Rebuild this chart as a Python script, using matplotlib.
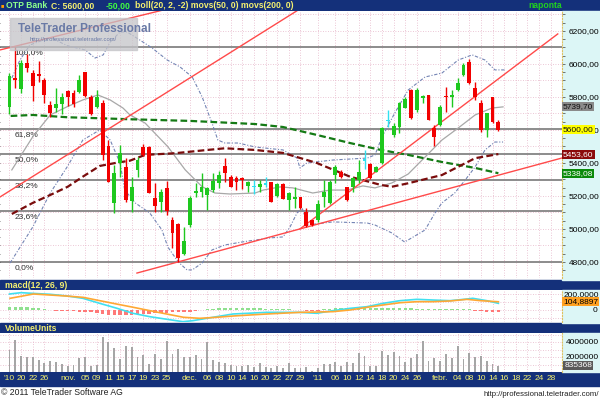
import numpy as np
import pandas as pd
import matplotlib
matplotlib.use('Agg')
import matplotlib.pyplot as plt
from matplotlib.patches import Rectangle
from matplotlib.transforms import blended_transform_factory

# ---------------- data ----------------
opens = [5741, 5913, 5846, 6004, 5948, 5937, 5903, 5752, 5731, 5756,
         5836, 5822, 5828, 5954, 5798, 5741, 5762, 5503, 5156, 5398,
         5378, 5172, 5358, 5495, 5495, 5186, 5162, 5251, 5055, 5028,
         4847, 5024, 5220, 5226, 5206, 5236, 5281, 5382, 5317, 5311,
         5311, 5263, 5257, 5257, 5273, 5287, 5200, 5273, 5176, 5180,
         5192, 5105, 5055, 5055, 5192, 5156, 5327, 5348, 5257, 5257,
         5297, 5418, 5394, 5348, 5398, 5657, 5570, 5620, 5731, 5842,
         5721, 5792, 5812, 5610, 5630, 5806, 5802, 5842, 5933, 6014,
         5853, 5762, 5600, 5798, 5650]
highs = [5943, 6105, 6024, 6061, 5964, 6020, 5913, 5776, 5853, 5826,
         5842, 5842, 5935, 5954, 5812, 5842, 5782, 5539, 5388, 5509,
         5428, 5317, 5438, 5513, 5503, 5277, 5240, 5291, 5075, 5038,
         5014, 5200, 5277, 5338, 5257, 5342, 5352, 5432, 5327, 5321,
         5317, 5293, 5297, 5297, 5317, 5287, 5277, 5277, 5226, 5257,
         5196, 5125, 5055, 5176, 5297, 5297, 5388, 5358, 5257, 5317,
         5418, 5479, 5398, 5382, 5616, 5721, 5640, 5772, 5798, 5846,
         5853, 5812, 5812, 5630, 5752, 5863, 5842, 5913, 6004, 6028,
         5893, 5782, 5705, 5798, 5661]
lows = [5697, 5853, 5822, 5954, 5778, 5893, 5762, 5677, 5711, 5695,
        5748, 5741, 5822, 5802, 5691, 5731, 5418, 5287, 5095, 5317,
        5166, 5105, 5317, 5445, 5216, 5101, 5101, 5085, 4883, 4798,
        4843, 5014, 5192, 5196, 5115, 5226, 5251, 5287, 5253, 5236,
        5243, 5226, 5212, 5226, 5257, 5166, 5196, 5180, 5115, 5125,
        5119, 5014, 5018, 5045, 5135, 5152, 5277, 5307, 5172, 5226,
        5277, 5362, 5301, 5348, 5394, 5620, 5560, 5580, 5731, 5665,
        5711, 5762, 5661, 5503, 5624, 5711, 5741, 5838, 5927, 5879,
        5782, 5590, 5560, 5640, 5596]
closes = [5927, 5901, 6004, 5974, 5869, 5927, 5812, 5705, 5756, 5798,
          5798, 5758, 5903, 5806, 5697, 5802, 5449, 5287, 5337, 5459,
          5176, 5257, 5418, 5449, 5220, 5142, 5226, 5111, 4978, 4822,
          4927, 5186, 5232, 5257, 5251, 5291, 5327, 5338, 5257, 5287,
          5297, 5287, 5257, 5273, 5273, 5166, 5273, 5180, 5216, 5196,
          5125, 5018, 5024, 5152, 5226, 5287, 5378, 5313, 5176, 5307,
          5348, 5418, 5307, 5378, 5610, 5657, 5624, 5762, 5786, 5671,
          5842, 5806, 5661, 5560, 5741, 5798, 5812, 5887, 5994, 5883,
          5802, 5600, 5701, 5650, 5600]
volumes = [2.95, 4.29, 2.14, 2.05, 1.97, 1.61, 1.25, 1.47, 1.38, 1.07,
           0.85, 0.94, 1.92, 1.97, 0.85, 0.94, 4.65, 3.97, 3.17, 1.70,
           3.48, 3.30, 1.97, 2.28, 1.03, 2.41, 1.70, 4.20, 2.46, 3.08,
           2.01, 2.01, 2.28, 1.70, 4.06, 1.61, 1.38, 1.16, 0.94, 0.80,
           0.80, 0.94, 0.62, 1.25, 0.71, 0.49, 0.80, 0.58, 1.25, 0.49,
           0.58, 0.71, 0.18, 0.58, 1.03, 1.03, 1.38, 0.80, 1.30, 1.25,
           2.50, 2.14, 0.85, 0.80, 2.81, 2.28, 2.72, 2.14, 1.38, 1.92,
           2.41, 4.15, 1.47, 1.83, 1.52, 2.37, 1.83, 3.48, 1.70, 2.59,
           2.05, 2.14, 1.52, 1.03, 0.835]  # millions

# moving averages / bollinger lines (index, value) as read
ma50_idx = [0.4, 4, 7, 10, 12.6, 15.5, 18.5, 20.7, 23.3, 28.4, 34, 37, 42.2, 47, 52.8, 58.5, 63.8, 65.7, 68.5, 74.3, 80, 84]
ma50_val = [5091, 5158, 5206, 5256, 5317, 5382, 5402, 5414, 5449, 5459, 5479, 5489, 5479, 5461, 5400, 5317, 5267, 5256, 5277, 5327, 5429, 5454]
ma200_idx = [0.2, 4, 10, 15.5, 20.7, 31, 42.2, 47, 52.8, 58.5, 63.8, 68.5, 74.3, 80, 84]
ma200_val = [5685, 5691, 5677, 5671, 5665, 5655, 5636, 5618, 5570, 5521, 5479, 5449, 5406, 5370, 5338]
mid_idx = [0.4, 4, 7, 9.9, 12.6, 15.2, 17.3, 19.5, 20.7, 23.3, 27.2, 30.2, 33.1, 35.3, 37.9, 42.2,
           43.6, 46.5, 48.7, 52.1, 55.1, 58, 60.7, 62.8, 65.7, 68.5, 71.4, 74.3, 77.1, 80, 82.9, 84.8]
mid_val = [5358, 5559, 5691, 5741, 5782, 5812, 5782, 5733, 5691, 5642, 5499, 5358, 5256, 5218, 5212, 5218,
           5236, 5255, 5249, 5218, 5236, 5236, 5261, 5249, 5279, 5333, 5436, 5539, 5612, 5691, 5733, 5740]
up_idx = [0.4, 1.8, 3.5, 7, 10, 13, 14.7, 16.1, 17.3, 19, 20.2, 22.4, 24.5, 27.1, 29.3, 31.4, 33.1,
          34.8, 35.8, 37, 39.3, 42.2, 47, 49.4, 49.9, 51.1, 55.6, 61.5, 62.8, 64, 66.2, 68.5, 71.4,
          74.3, 77.1, 79.5, 81.7, 83.4, 85.1]
up_val = [5915, 6024, 6115, 6160, 6110, 6085, 6036, 6055, 6133, 6194, 6194, 6145, 6097, 6024, 5982, 5921, 5800,
          5642, 5539, 5521, 5521, 5497, 5479, 5430, 5370, 5400, 5418, 5430, 5449, 5558, 5703, 5842, 5921,
          5945, 6024, 6055, 6024, 5964, 5964]
lo_idx = [0.1, 4, 7, 9.9, 12.6, 15.5, 17.3, 19, 19.8, 21.6, 24.1, 26.2, 27.2, 29, 30.5, 31.4, 33.1,
          34.8, 37, 39.9, 42.2, 44.8, 47, 48.2, 49.4, 50.3, 51.1, 55.6, 61.5, 62.8, 65.7, 67.9, 71.4,
          73.1, 74.3, 76.5, 78.3, 80, 81.7, 83.4, 84.8]
lo_val = [4794, 5012, 5218, 5376, 5539, 5600, 5539, 5400, 5236, 5158, 5097, 4994, 4891, 4800, 4752, 4752, 4794,
          4873, 4903, 4921, 4933, 4946, 4952, 5012, 5097, 5127, 5024, 5043, 5036, 5024, 4976, 4921, 4994,
          5097, 5158, 5218, 5297, 5376, 5479, 5527, 5527]

# trend lines: ((idx0, price0), (idx1, price1))
trend_lines = [((-1.63, 5194), (49.6, 6327)),
               ((-1.63, 6085), (26.4, 6327)),
               ((21.9, 4733), (94.9, 5430)),
               ((49.9, 5000), (94.2, 6182))]
fib_low, fib_high = 4798, 6105
fib_levels = [1.0, 0.618, 0.5, 0.382, 0.236, 0.0]
fib_labels = ['100,0%', '61,8%', '50,0%', '38,2%', '23,6%', '0,0%']

# macd (index, value)
macd_idx = [0, 2, 4, 7, 10, 12.6, 15.5, 18.5, 21.2, 24.1, 27.1, 29.8, 31.5, 33.9, 38.4, 44.2, 49.9,
            52.8, 55.6, 58.5, 61.4, 64.2, 67.1, 70, 72.8, 75.7, 78.6, 79.6, 82, 84]
macd_val = [204, 221, 212, 200, 178, 149, 85, 21, -42, -85, -119, -149, -136, -106, -51, -30, -30,
            -42, -8, 21, 42, 85, 119, 136, 127, 119, 140, 149, 119, 85]
sig_idx = [0.1, 4.1, 7, 9.8, 12.7, 15.5, 18.4, 21.3, 24.1, 27, 29.9, 32.7, 35.6, 38.5, 44.2, 49.9,
           55.6, 58.5, 61.4, 64.2, 67.1, 70, 72.8, 75.7, 78.6, 80.9, 84]
sig_val = [149, 204, 191, 178, 161, 119, 76, 34, -8, -51, -93, -106, -93, -76, -51, -30,
           -21, 0, 34, 64, 93, 106, 106, 115, 136, 119, 105]
hist = [35, 38, 40, 35, 30, 20,
        10, -5, -10, -12, -15, -18, -20, -22, -25, -35,
        -50, -58, -62, -62, -60, -58, -55, -50, -45,
        -40, -35, -32, -30, -28, -25, -20, -12,
        -3,
        10, 15, 20, 22, 25, 25, 25, 24, 22, 20, 18, 15, 12, 10, 8, 5, 3,
        -10, -15, -12,
        10, 18, 22, 25, 25, 25, 25, 25, 25, 28, 30, 30, 28, 25, 22, 20, 18, 15, 12, 10,
        10, 12, 15, 15, 12, 8,
        -10, -18, -22, -25, -25]

tick_dates = ['2010-10-18', '2010-10-20', '2010-10-22', '2010-10-26', '2010-11-02', '2010-11-05',
              '2010-11-09', '2010-11-11', '2010-11-15', '2010-11-17', '2010-11-19', '2010-11-23',
              '2010-11-25', '2010-12-01', '2010-12-06', '2010-12-08', '2010-12-10', '2010-12-14',
              '2010-12-16', '2010-12-20', '2010-12-22', '2010-12-27', '2010-12-29', '2011-01-03',
              '2011-01-06', '2011-01-10', '2011-01-12', '2011-01-14', '2011-01-18', '2011-01-20',
              '2011-01-24', '2011-01-26', '2011-02-01', '2011-02-04', '2011-02-08', '2011-02-10',
              '2011-02-14', '2011-02-16', '2011-02-18', '2011-02-22', '2011-02-24', '2011-02-28']
tick_labels = ["'10", '20', '22', '26', 'nov.', '05', '09', '11', '15', '17', '19', '23', '25',
               'dec.', '06', '08', '10', '14', '16', '20', '22', '27', '29', "'11", '06', '10',
               '12', '14', '18', '20', '24', '26', 'febr.', '04', '08', '10', '14', '16', '18',
               '22', '24', '28']

# ---------------- layout ----------------
plt.rcParams['font.family'] = ['Liberation Sans', 'DejaVu Sans']
W, H = 600, 400
fig = plt.figure(figsize=(6, 4), dpi=100)
fig.patch.set_facecolor('white')

navy = '#14307a'
cyan_bg = '#dcf6f6'
grid_c = '#e6b4c8'
yellow_txt = '#f4f070'


def box(x0, y0, x1, y1):
    return [x0 / W, 1 - y1 / H, (x1 - x0) / W, (y1 - y0) / H]


def rect(x0, y0, x1, y1, color):
    fig.patches.append(Rectangle((x0 / W, 1 - y1 / H), (x1 - x0) / W, (y1 - y0) / H,
                                 transform=fig.transFigure, color=color, zorder=-1))


for r in [(0, 0, 600, 11), (0, 280, 600, 290), (0, 323, 600, 333), (0, 372, 600, 386)]:
    rect(*r, navy)
for r in [(562, 11, 600, 280), (562, 290, 600, 323), (562, 333, 600, 372)]:
    rect(*r, cyan_bg)

# trading days (BSE: no trading on Nov 1 and Dec 24)
days = pd.bdate_range('2010-10-18', '2011-02-28')
days = days[~days.isin(pd.to_datetime(['2010-11-01', '2010-12-24']))]
tick_idx = [days.get_loc(pd.Timestamp(d)) for d in tick_dates]
xlim = (-1.63, 94.93)


def style(ax):
    for s in ['top', 'left', 'bottom']:
        ax.spines[s].set_visible(False)
    ax.spines['right'].set_color('#e0c060')
    ax.spines['right'].set_linestyle(':')
    ax.set_xlim(*xlim)
    ax.set_xticks(tick_idx)
    for t in tick_idx:
        ax.axvline(t, color=grid_c, lw=0.6, ls=(0, (1, 2)), zorder=0)
    ax.yaxis.tick_right()
    ax.tick_params(axis='y', which='both', length=2, width=0.5, color='#404040',
                   labelsize=6, pad=3, left=True, right=True)
    ax.tick_params(axis='x', length=0, labelbottom=False)


# ---- main price panel ----
ax = fig.add_axes(box(0, 11, 562, 278))
style(ax)
ax.set_ylim(4703, 6321)
ax.set_yticks(range(4800, 6201, 200))
ax.set_yticks(range(4750, 6321, 50), minor=True)
ax.set_yticklabels([f'{v},00' for v in range(4800, 6201, 200)])
for p in range(4800, 6301, 100):
    ax.axhline(p, color=grid_c, lw=0.6, ls=(0, (1, 2)), zorder=0)

for f, lab in zip(fib_levels, fib_labels):
    lvl = fib_low + f * (fib_high - fib_low)
    ax.axhline(lvl, color='#8c8c8c', lw=1.4, zorder=1)
    ax.text(0.9, lvl - 12, lab, fontsize=6, color='#303030', va='top', ha='left', zorder=2)

ax.plot(mid_idx, mid_val, color='#a8a8a8', lw=0.9, zorder=2)
ax.plot(up_idx, up_val, color='#7484b4', lw=0.8, ls=(0, (3, 1.5, 1, 1.5)), zorder=2)
ax.plot(lo_idx, lo_val, color='#7484b4', lw=0.8, ls=(0, (3, 1.5, 1, 1.5)), zorder=2)
ax.plot(ma200_idx, ma200_val, color='#157a15', lw=1.6, ls=(0, (3, 1.5)), zorder=3)
ax.plot(ma50_idx, ma50_val, color='#7a0c0c', lw=1.6, ls=(0, (3, 1.5)), zorder=3)
for (x0, y0), (x1, y1) in trend_lines:
    ax.plot([x0, x1], [y0, y1], color='#ff4a4a', lw=1.0, zorder=3)

o = np.array(opens, float)
c = np.array(closes, float)
idx = np.arange(len(o))
cols = np.where(c > o, '#1ec81e', np.where(c < o, '#f20000', '#30e0f0'))
ax.vlines(idx, lows, highs, colors=cols, lw=1.0, zorder=4)
body = np.maximum(np.abs(c - o), 8)
bottom = np.minimum(o, c) - (body - np.abs(c - o)) / 2
ax.bar(idx, body, bottom=bottom, width=0.66, color=cols, zorder=5)

tr = blended_transform_factory(ax.transAxes, ax.transData)
for val, txt, bg, fg in [(5739.7, '5739,70', '#8a8a8a', '#101010'),
                         (5600.0, '5600,00', '#ffff00', '#101010'),
                         (5453.6, '5453,60', '#8b0a0a', 'white'),
                         (5338.08, '5338,08', '#0a8a0a', 'white')]:
    ax.text(1.002, val, txt, transform=tr, fontsize=6, color=fg, va='center', ha='left',
            bbox=dict(boxstyle='square,pad=0.12', fc=bg, ec='none'), clip_on=False, zorder=6)

# ---- macd panel ----
axm = fig.add_axes(box(0, 290, 562, 322))
style(axm)
axm.set_ylim(-153, 255)
axm.set_yticks([])
for v in [-100, 0, 100, 200]:
    axm.axhline(v, color=grid_c, lw=0.6, ls=(0, (1, 2)), zorder=0)
hist_arr = np.array(hist, float)
axm.bar(np.arange(len(hist_arr)), hist_arr, width=0.6,
        color=np.where(hist_arr >= 0, '#8fe08f', '#ff7878'), zorder=2)
axm.plot(macd_idx, macd_val, color='#40e0f0', lw=1.2, zorder=3)
axm.plot(sig_idx, sig_val, color='#ffa834', lw=1.2, zorder=3)
trm = blended_transform_factory(axm.transAxes, axm.transData)
axm.text(1.003, 200, '200,0000', transform=trm, fontsize=6, va='center', ha='left', clip_on=False)
axm.text(1.0 + 35 / 562, 0, '0', transform=trm, fontsize=6, va='center', ha='right', clip_on=False)
axm.text(1.002, 104.89, '104,8897', transform=trm, fontsize=6, va='center', ha='left',
         bbox=dict(boxstyle='square,pad=0.12', fc='#ffa020', ec='none'), clip_on=False)

# ---- volume panel ----
axv = fig.add_axes(box(0, 333, 562, 372))
style(axv)
vol = np.array(volumes) * 1e6
axv.set_ylim(0, 5.23e6)
axv.set_yticks([])
for v in [1e6, 2e6, 3e6, 4e6, 5e6]:
    axv.axhline(v, color=grid_c, lw=0.6, ls=(0, (1, 2)), zorder=0)
axv.bar(np.arange(len(vol)), vol, width=0.32, color='#a6a6a6', zorder=2)
trv = blended_transform_factory(axv.transAxes, axv.transData)
axv.text(1.006, 4e6, '4000000', transform=trv, fontsize=6, va='center', ha='left', clip_on=False)
axv.text(1.006, 2e6, '2000000', transform=trv, fontsize=6, va='center', ha='left', clip_on=False)
axv.text(1.004, 0.835368e6, '835368', transform=trv, fontsize=6, va='center', ha='left', color='white',
         bbox=dict(boxstyle='square,pad=0.12', fc='#5a5a5a', ec='none'), clip_on=False)
axv.tick_params(axis='x', labelbottom=True, labelsize=6, labelcolor=yellow_txt, pad=2.5)
axv.set_xticklabels(tick_labels)

# ---- header texts ----
hy = 1 - 5.8 / H
hdr = dict(fontsize=6.2, weight='bold', va='center', ha='left')
fig.text(1 / W, hy, '\u25a0', color='#ff9a00', fontsize=4, va='center')
fig.text(6 / W, hy, 'OTP Bank', color='#8cff8c', **hdr)
fig.text(51 / W, hy, 'C: 5600,00', color=yellow_txt, **hdr)
fig.text(106 / W, hy, '-50,00', color='#40ff40', **hdr)
fig.text(135 / W, hy, 'boll(20, 2, -2) movs(50, 0) movs(200, 0)', color=yellow_txt, **hdr)
fig.text(528 / W, hy, 'naponta', color='#20d020', **hdr)
fig.text(5 / W, 1 - 285.5 / H, 'macd(12, 26, 9)', color=yellow_txt, **hdr)
fig.text(5 / W, 1 - 328.5 / H, 'VolumeUnits', color=yellow_txt, **hdr)

# ---- logo ----
fig.patches.append(Rectangle((10 / W, 1 - 50 / H), 127 / W, 32 / H, transform=fig.transFigure,
                             color='#c4c4c8', alpha=0.75, zorder=5))
fig.text(18 / W, 1 - 29 / H, 'TeleTrader Professional', fontsize=8.5, weight='bold',
         family=['Liberation Sans Narrow', 'Liberation Sans'], color='#6a7aa6', va='center', zorder=6)
fig.text(30 / W, 1 - 40 / H, 'http://professional.teletrader.com/', fontsize=4.2,
         color='#6a7aa6', va='center', zorder=6)

# ---- footer ----
fig.text(1 / W, 1 - 392.5 / H, '\u00a9 2011 TeleTrader Software AG', fontsize=6.2, color='#202020', va='center')
fig.text(599 / W, 1 - 394 / H, 'http://professional.teletrader.com/', fontsize=5.6, color='#202020',
         va='center', ha='right')

fig.savefig('out.png', dpi=100)
